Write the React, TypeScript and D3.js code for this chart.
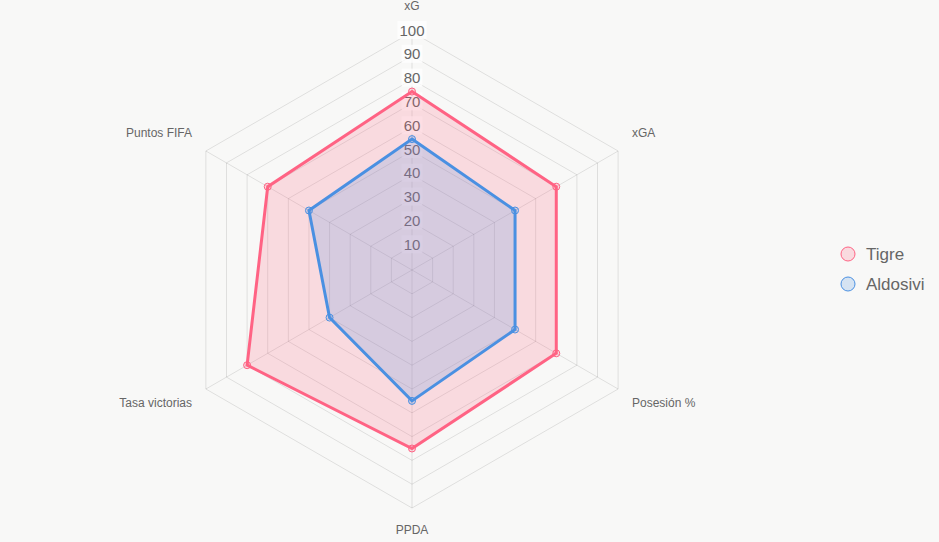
import React, {useRef, useEffect} from 'react';
import * as d3 from 'd3';

const labels = ['xG', 'xGA', 'Posesión %', 'PPDA', 'Tasa victorias', 'Puntos FIFA'];
const tigre = [75, 70, 70, 75, 80, 70];
const aldosivi = [55, 50, 50, 55, 40, 50];
const ticks = [10, 20, 30, 40, 50, 60, 70, 80, 90, 100];

const series = [
    {name: 'Tigre', values: tigre, stroke: 'rgb(255,99,132)', fill: 'rgba(255,99,132,0.2)'},
    {name: 'Aldosivi', values: aldosivi, stroke: 'rgb(74,144,226)', fill: 'rgba(74,144,226,0.2)'}
];

const App = () => {
    const ref = useRef(null);

    useEffect(() => {
        document.body.style.margin = '0';
        const svg = d3.select(ref.current);
        svg.selectAll('*').remove();

        const width = 939, height = 542;
        const cx = 412, cy = 270, R = 238;
        const n = labels.length;
        const r = d3.scaleLinear().domain([0, 100]).range([0, R]);
        const angle = (i) => (i / n) * 2 * Math.PI;
        const pt = (i, v) => [cx + r(v) * Math.sin(angle(i)), cy - r(v) * Math.cos(angle(i))];

        svg.append('rect').attr('width', width).attr('height', height).attr('fill', '#f8f8f7');

        const g = svg.append('g');

        // grid rings
        ticks.forEach(t => {
            const pts = labels.map((_, i) => pt(i, t));
            g.append('polygon')
                .attr('points', pts.map(p => p.join(',')).join(' '))
                .attr('fill', 'none')
                .attr('stroke', 'rgba(0,0,0,0.1)')
                .attr('stroke-width', 1);
        });

        // angle lines
        labels.forEach((_, i) => {
            const [x, y] = pt(i, 100);
            g.append('line')
                .attr('x1', cx).attr('y1', cy).attr('x2', x).attr('y2', y)
                .attr('stroke', 'rgba(0,0,0,0.1)');
        });

        // tick labels
        ticks.forEach(t => {
            const y = cy - r(t) - 2;
            const txt = g.append('text')
                .attr('x', cx).attr('y', y)
                .attr('text-anchor', 'middle')
                .attr('dominant-baseline', 'central')
                .attr('font-family', 'Arial, Liberation Sans, sans-serif')
                .attr('font-size', 15)
                .attr('fill', '#666')
                .text(t);
            const bb = txt.node().getBBox();
            g.insert('rect', () => txt.node())
                .attr('x', bb.x - 2).attr('y', y - 9)
                .attr('width', bb.width + 4).attr('height', 18)
                .attr('fill', 'rgba(255,255,255,0.75)');
        });

        // point labels
        labels.forEach((lab, i) => {
            const a = angle(i);
            const s = Math.sin(a), c = Math.cos(a);
            let x = cx + (R + 20) * s;
            let y = cy - (R + 20) * c;
            let anchor = 'middle';
            if (Math.abs(s) < 0.01) {
                y = c > 0 ? cy - R - 26 : cy + R + 22;
            } else {
                anchor = s > 0 ? 'start' : 'end';
                x = cx + (R + 16) * s;
                y = c > 0 ? cy - (R + 20) * c - 8 : cy - (R + 20) * c + 4;
            }
            g.append('text')
                .attr('x', x).attr('y', y)
                .attr('text-anchor', anchor)
                .attr('dominant-baseline', 'central')
                .attr('font-family', 'Arial, Liberation Sans, sans-serif')
                .attr('font-size', 12)
                .attr('fill', '#666')
                .text(lab);
        });

        const line = d3.line().curve(d3.curveLinearClosed);

        series.forEach(sr => {
            const pts = sr.values.map((v, i) => pt(i, v));
            g.append('path')
                .attr('d', line(pts))
                .attr('fill', sr.fill)
                .attr('stroke', sr.stroke)
                .attr('stroke-width', 3)
                .attr('stroke-linejoin', 'miter');
            g.selectAll(null)
                .data(pts)
                .enter()
                .append('circle')
                .attr('cx', d => d[0])
                .attr('cy', d => d[1])
                .attr('r', 3.5)
                .attr('fill', sr.fill)
                .attr('stroke', sr.stroke)
                .attr('stroke-width', 1);
        });

        // legend
        const legend = svg.append('g');
        series.forEach((sr, i) => {
            const y = 254 + i * 30;
            legend.append('circle')
                .attr('cx', 848).attr('cy', y).attr('r', 7)
                .attr('fill', sr.fill)
                .attr('stroke', sr.stroke)
                .attr('stroke-width', 1);
            legend.append('text')
                .attr('x', 866).attr('y', y)
                .attr('dominant-baseline', 'central')
                .attr('font-family', 'Arial, Liberation Sans, sans-serif')
                .attr('font-size', 17)
                .attr('fill', '#666')
                .text(sr.name);
        });
    }, []);

    return (
        <svg ref={ref} width={939} height={542} style={{display: 'block'}}></svg>
    );
};

export default App;
